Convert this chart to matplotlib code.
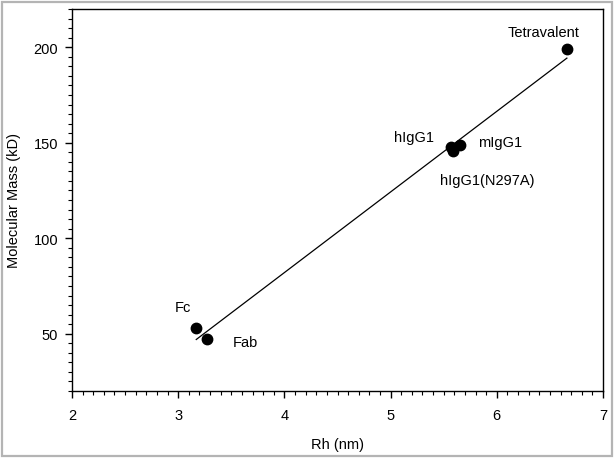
import numpy as np
import matplotlib
matplotlib.use('Agg')
import matplotlib.pyplot as plt
from matplotlib.patches import Rectangle
from matplotlib.ticker import MultipleLocator

plt.rcParams['font.family'] = ['Liberation Sans', 'DejaVu Sans']

names = ['Fc', 'Fab', 'hIgG1', 'hIgG1(N297A)', 'mIgG1', 'Tetravalent']
rh_nm = [3.17, 3.27, 5.57, 5.59, 5.65, 6.66]
mass_kd = [53, 47, 148, 145.5, 149, 199]
label_x = [3.04, 3.63, 5.22, 5.91, 6.03, 6.44]
label_y = [64, 45.8, 153, 130.7, 150.5, 207.8]

fig = plt.figure(figsize=(6.15, 4.6), dpi=100)
ax = fig.add_axes([72 / 615, 68 / 460, 531 / 615, 382 / 460])

ax.scatter(rh_nm, mass_kd, s=56, color='black', zorder=3)

slope, intercept = np.polyfit(rh_nm, mass_kd, 1)
fit_x = np.array([min(rh_nm), max(rh_nm)])
ax.plot(fit_x, slope * fit_x + intercept, color='black', lw=0.9)

for name, lx, ly in zip(names, label_x, label_y):
  ax.text(lx, ly, name, fontsize=10.5, ha='center', va='center')

ax.set_xlim(2, 7)
ax.set_ylim(20, 220)
ax.set_xticks([2, 3, 4, 5, 6, 7])
ax.set_yticks([50, 100, 150, 200])
ax.xaxis.set_minor_locator(MultipleLocator(0.1))
ax.yaxis.set_minor_locator(MultipleLocator(5))
ax.tick_params(which='major', direction='out', length=5, width=1, labelsize=10.5)
ax.tick_params(axis='x', which='major', pad=7)
ax.tick_params(axis='y', which='major', pad=5)
ax.tick_params(which='minor', direction='out', length=3, width=0.8)
for sp in ax.spines.values():
  sp.set_linewidth(1.0)

ax.set_xlabel('Rh (nm)', fontsize=10.5, va='center')
ax.set_ylabel('Molecular Mass (kD)', fontsize=10.5, va='center')
ax.xaxis.set_label_coords(0.5, -0.139)
ax.yaxis.set_label_coords(-0.109, 0.5)

fig.patches.append(Rectangle((2 / 615, 3 / 460), 610 / 615, 454 / 460, transform=fig.transFigure,
                             fill=False, edgecolor='#b4b4b4', linewidth=1.6))

fig.savefig('out.png', dpi=100)
